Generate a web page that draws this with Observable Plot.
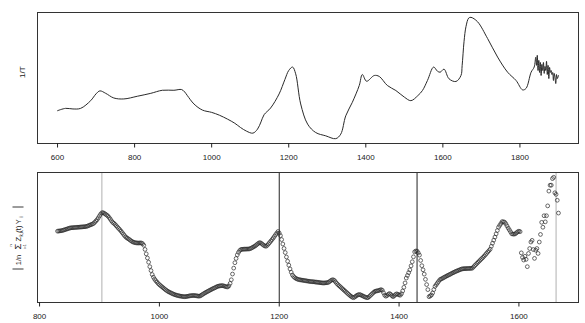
<!DOCTYPE html>
<html><head><meta charset="utf-8">
<script src="https://cdn.jsdelivr.net/npm/d3@7"></script>
<script src="https://cdn.jsdelivr.net/npm/@observablehq/plot@0.6"></script>
<style>
body{margin:0;background:#fff;width:585px;height:323px;overflow:hidden}
svg{display:block}
</style></head><body>
<div id="top"></div><div id="bot"></div>
<script>
// ---- top panel: spectrum (1/T) ----
const topX = [600,621,640,660,686,700,710,725,746,772,807,842,872,902,922,930,937,954,976,1000,1020,1041,1060,1075,1090,1107,1119,1128,1136,1153,1175,1190,1200,1210,1218,1231,1249,1270,1296,1322,1335,1348,1365,1383,1391,1402,1422,1435,1456,1478,1500,1517,1535,1547,1560,1576,1586,1593,1603,1616,1634,1647,1650,1655,1660,1667,1673,1690,1716,1742,1768,1790,1807,1816,1829,1837,
  1841,1843,1845,1847,1849,1851,1853,1855,1857,1859,1861,1863,1865,1867,1869,1871,1873,1875,1877,1879,1881,1883,1885,1887,1889,1891,1893,1895,1897,1900];
const topY = [23.2,25.1,24.6,25.1,31.4,37.0,39.4,37.4,33.6,32.8,35.0,37.4,39.9,39.9,40.5,38.5,35.5,28.7,23.7,21.8,19.5,16.3,12.9,9.4,6.5,4.8,8.1,14.0,19.9,25.4,36.9,48.7,56.1,58.9,53.4,28.7,12.2,5.3,2.6,0.3,4.0,19.0,30.0,43.8,52.8,47.3,52.0,51.2,43.8,39.7,34.3,31.4,35.5,39.7,47.9,58.9,55.5,54.7,57.2,49.3,47.1,52.0,60.0,80.0,92.0,99.0,99.6,96.0,82.3,67.1,54.7,47.9,40.2,41.5,54.7,58.9,
  66.9,60.3,68.5,56.1,64.4,54.5,62.7,52.0,61.1,56.1,62.7,53.7,59.4,56.1,63.6,52.8,60.3,49.5,58.6,54.5,56.1,52.8,54.5,47.9,53.7,50.4,45.4,52.8,49.5,52.0];
const topTicks = [600, 800, 1000, 1200, 1400, 1600, 1800];

// ---- bottom panel: |1/n sum Z_k,i(t) Y_i| ----
const botStart = 830, botStep = 2;
const botY = [
66.5,66.7,66.8,67.0,67.2,67.6,68.0,68.4,68.8,69.2,
69.6,69.9,70.0,70.1,70.2,70.3,70.4,70.5,70.6,70.7,
70.8,70.9,71.0,71.1,71.3,71.7,72.2,72.7,73.2,73.7,
74.3,75.5,76.8,78.2,80.0,82.0,83.8,85.2,85.3,84.6,
83.8,82.9,82.0,80.5,78.8,77.0,75.5,74.5,73.4,72.0,
70.6,69.3,68.0,66.5,65.0,63.4,61.9,60.5,59.6,58.8,
58.0,57.0,56.2,55.5,55.1,54.8,54.6,54.5,54.5,54.6,
54.5,53.8,52.2,48.0,43.5,39.3,35.0,30.5,26.5,22.5,
19.8,17.8,16.2,14.8,13.4,12.2,11.2,10.2,9.2,8.2,
7.2,6.3,5.5,4.8,4.2,3.6,3.0,2.5,2.0,1.6,
1.3,1.0,0.7,0.5,0.3,0.1,0.0,0.1,0.3,0.5,
0.8,1.0,1.1,1.2,1.2,1.1,0.9,0.7,0.5,0.8,
1.5,2.3,3.1,3.8,4.5,5.2,5.8,6.5,7.1,7.8,
8.4,8.9,9.5,10.2,10.6,10.9,11.1,11.2,11.2,10.8,
10.4,10.1,9.9,11.0,13.5,17.2,23.0,29.0,34.5,38.8,
42.5,45.0,46.8,47.9,48.1,48.2,48.3,48.3,48.4,48.4,
48.5,48.9,49.5,50.2,50.9,51.6,52.6,53.6,54.5,54.9,
54.2,53.2,52.2,51.5,51.2,52.2,53.6,55.0,56.5,58.0,
59.6,61.3,63.0,64.6,66.2,64.5,62.0,58.0,53.5,49.0,
44.8,40.3,36.0,32.0,28.2,24.8,22.0,20.5,19.3,18.5,
17.9,17.5,17.2,17.0,16.8,16.6,16.4,16.2,16.0,15.8,
15.6,15.4,15.3,15.2,15.1,14.9,14.8,14.6,14.5,14.3,
14.1,14.0,13.9,14.0,14.1,14.3,14.5,15.4,16.3,17.0,
17.2,16.5,15.0,13.5,12.2,11.1,10.0,8.9,7.8,6.7,
5.6,4.5,3.4,2.3,1.2,0.3,-0.5,-1.0,-0.3,0.6,
1.5,2.0,2.2,1.8,1.2,0.6,0.0,-0.5,-0.9,-1.0,
0.0,1.2,2.4,3.5,4.6,5.5,5.8,6.0,6.3,6.7,
7.2,6.5,4.0,1.5,0.5,1.2,2.5,3.2,2.4,1.0,
0.0,1.0,2.2,2.9,2.4,1.8,1.5,3.0,5.8,9.5,
14.0,18.9,21.6,24.4,27.2,31.3,35.5,40.5,45.5,46.4,
46.3,44.5,42.2,36.8,31.5,27.3,22.9,17.6,12.3,7.2,
0.0,0.8,1.7,3.8,7.2,10.5,12.2,13.9,15.5,17.2,
17.9,18.5,19.2,19.9,20.5,21.2,21.8,22.4,23.0,23.7,
24.3,24.9,25.5,26.0,26.5,27.0,27.5,28.0,28.3,28.4,
28.5,28.5,28.6,28.7,28.7,28.8,28.9,30.1,31.4,32.6,
33.9,35.1,36.3,37.5,38.7,39.9,41.2,42.6,44.0,45.4,
46.8,48.2,51.2,54.3,57.4,60.5,63.8,67.2,70.5,72.4,
74.3,76.2,76.0,75.7,74.2,72.0,69.8,67.9,65.9,63.9,
63.6,63.5,63.9,64.9,65.9,66.5,66.0,
44.5,39.9,37.2,41.0,37.9,30.5,43.9,48.9,55.5,57.2,47.9,38.9,47.2,48.9,43.9,55.5,
63.2,75.5,70.5,82.2,76.0,82.2,92.2,107.2,113.2,113.2,119.9,121.2,105.5,103.9,97.9,84.9];
const botTicks = [800, 1000, 1200, 1400, 1600];
const vlinesGray = [904, 1662];
const vlinesDark = [1200, 1430];

// R-style 4% padded domain
function rDomain(vals) { const [a, b] = d3.extent(vals); const p = (b - a) * 0.04; return [a - p, b + p]; }

const font = "'Liberation Sans', Arial, Helvetica, sans-serif";
const style = {fontFamily: font, fontSize: "8px", color: "#222", background: "white", overflow: "visible"};

const topData = topX.map((x, i) => ({x, y: topY[i]}));
const botData = botY.map((y, i) => ({x: botStart + i * botStep, y}));

const topPlot = Plot.plot({
  width: 585, height: 165,
  marginLeft: 37, marginRight: 7, marginTop: 12, marginBottom: 22,
  style,
  x: {domain: rDomain(topX), label: null, axis: null},
  y: {domain: rDomain(topY), label: null, axis: null},
  marks: [
    Plot.line(topData, {x: "x", y: "y", stroke: "#2a2a2a", strokeWidth: 1, curve: "catmull-rom"}),
    Plot.frame({stroke: "#333"}),
    Plot.axisX({ticks: topTicks, tickSize: 4.5, tickPadding: 6, tickFormat: d => String(d), label: null, fontSize: 8}),
    Plot.text(["1/T"], {text: d => d, frameAnchor: "left", dx: -15, rotate: -90, fontSize: 8, fill: "#222"})
  ]
});
document.getElementById("top").appendChild(topPlot);

const botPlot = Plot.plot({
  width: 585, height: 158,
  marginLeft: 37, marginRight: 7, marginTop: 7, marginBottom: 21,
  style,
  x: {domain: rDomain(botData.map(d => d.x)), label: null, axis: null},
  y: {domain: rDomain(botY), label: null, axis: null},
  marks: [
    Plot.ruleX(vlinesGray, {stroke: "#b0b0b0", strokeWidth: 1}),
    Plot.ruleX(vlinesDark, {stroke: "#222", strokeWidth: 1}),
    Plot.dot(botData, {x: "x", y: "y", r: 1.9, stroke: "#2a2a2a", strokeWidth: 0.7, fill: "none"}),
    Plot.frame({stroke: "#333"}),
    Plot.axisX({ticks: botTicks, tickSize: 4.5, tickPadding: 6, tickFormat: d => String(d), label: null, fontSize: 8})
  ]
});
document.getElementById("bot").appendChild(botPlot);

// y label of the lower panel: |1/n sum_{i=1}^{n} Z_{k,i}(t) Y_i|
const g = d3.select(botPlot).append("g")
  .attr("transform", "translate(17,73) rotate(-90)")
  .attr("fill", "#222").style("font-family", font);
const items = [
  {t: "1/n", x: -22, y: 4, s: 7.5},
  {t: "\u03A3", x: -8.6, y: 4, s: 9.5},
  {t: "n", x: -7.4, y: -4.6, s: 4},
  {t: "i=1", x: -8.8, y: 8.6, s: 3.6},
  {t: "Z", x: -1.1, y: 4, s: 7.5},
  {t: "k,i", x: 3.7, y: 6.2, s: 4.5},
  {t: "(t)", x: 8.9, y: 4, s: 7.5},
  {t: "Y", x: 16.2, y: 4, s: 7.5},
  {t: "i", x: 21.1, y: 6.2, s: 4.5}
];
for (const it of items) {
  g.append("text").attr("x", it.x).attr("y", it.y).attr("font-size", it.s).text(it.t);
}
for (const bx of [-31, 31]) {
  g.append("line").attr("x1", bx).attr("x2", bx).attr("y1", -4.5).attr("y2", 6.5)
    .attr("stroke", "#222").attr("stroke-width", 0.9);
}
</script>
</body></html>
